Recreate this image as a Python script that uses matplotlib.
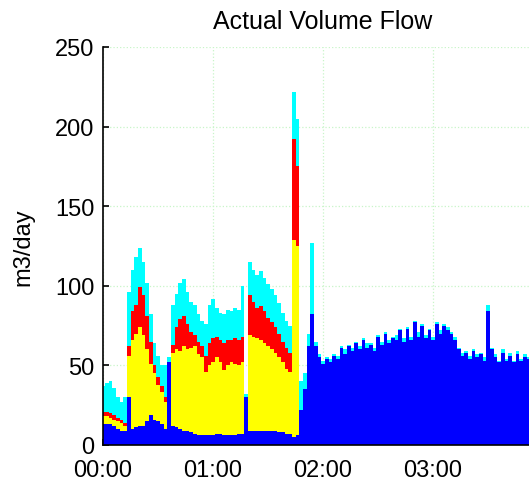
import numpy as np
import matplotlib
matplotlib.use("Agg")
import matplotlib.pyplot as plt

plt.rcParams['font.family'] = ['Liberation Sans', 'DejaVu Sans']

# time in minutes since 00:00, one sample every 2 minutes
minutes = list(range(0, 238, 2))

# layer values (m3/day), stacked bottom -> top
blue = [13, 13, 13, 12, 10, 9, 9, 30, 10, 11, 12, 12, 15, 19, 16, 15, 13, 10, 52, 12,
        11, 10, 9, 9, 8, 7, 6, 6, 6, 6, 6, 7, 7, 6, 6, 6, 6, 7, 7, 30,
        9, 9, 9, 9, 9, 9, 9, 9, 8, 8, 7, 7, 5, 6, 22, 35, 62, 82, 62, 55,
        51, 54, 52, 56, 54, 61, 57, 62, 59, 64, 60, 66, 61, 63, 59, 68, 63, 70, 64, 67,
        66, 72, 65, 73, 66, 77, 68, 75, 67, 72, 66, 76, 70, 75, 72, 70, 66, 60, 56, 58,
        54, 59, 55, 57, 53, 84, 60, 55, 52, 58, 53, 56, 52, 57, 53, 55, 54, 56, 53]

yellow = [5, 5, 4, 4, 5, 5, 3, 26, 56, 59, 62, 57, 45, 32, 29, 23, 20, 17, 0, 46,
          49, 49, 53, 51, 53, 55, 51, 49, 40, 44, 46, 48, 45, 41, 44, 46, 45, 43, 45, 0,
          60, 59, 58, 57, 55, 53, 51, 49, 47, 44, 41, 39, 124, 119, 0, 0, 0, 0, 0, 0,
          0] + [0] * 58

red = [3, 3, 3, 3, 2, 2, 2, 6, 18, 18, 25, 25, 21, 14, 5, 5, 4, 3, 0, 5,
       14, 20, 19, 16, 10, 7, 8, 7, 10, 14, 15, 13, 14, 17, 16, 14, 16, 16, 16, 0,
       25, 22, 19, 21, 20, 18, 17, 16, 15, 13, 13, 12, 63, 50, 0, 0, 0, 0, 0, 0,
       0] + [0] * 58

cyan = [16, 18, 20, 17, 13, 11, 16, 34, 26, 30, 25, 21, 21, 17, 14, 13, 13, 20, 3, 25,
        21, 23, 23, 20, 19, 19, 17, 16, 20, 24, 25, 18, 17, 18, 19, 18, 19, 19, 32, 2,
        21, 20, 21, 22, 21, 21, 21, 20, 19, 18, 17, 17, 30, 30, 18, 10, 8, 45, 3, 2,
        2, 1, 2, 1, 2, 1, 3, 1, 2, 1, 2, 1, 3, 1, 2, 1, 2, 1, 2, 1,
        3, 1, 2, 1, 2, 1, 3, 1, 2, 1, 2, 1, 2, 1, 2, 1, 2, 1, 2, 1,
        2, 1, 2, 1, 2, 4, 1, 2, 1, 2, 1, 2, 1, 2, 1, 2, 1, 2, 1]

tick_pos = [0, 60, 120, 180]
tick_labels = ['00:00', '01:00', '02:00', '03:00']

fig = plt.figure(figsize=(5.29, 4.85), dpi=100)
ax = fig.add_axes([103 / 529, 39 / 485, 440 / 529, 398 / 485])

ax.stackplot(minutes, blue, yellow, red, cyan,
             colors=['#0000ff', '#ffff00', '#ff0000', '#00ffff'],
             step='mid', linewidth=0, edgecolor='none')

ax.set_xlim(0, 240)
ax.set_ylim(0, 250)
ax.set_xticks(tick_pos)
ax.set_xticklabels(tick_labels)
ax.set_yticks([0, 50, 100, 150, 200, 250])

ax.set_axisbelow(True)
ax.grid(True, color='#c8f5c8', linestyle=':', linewidth=0.9)
for s in ['top', 'right']:
    ax.spines[s].set_visible(False)
ax.spines['left'].set_linewidth(1.2)
ax.spines['bottom'].set_linewidth(1.2)
ax.tick_params(direction='in', length=4, width=1.2, labelsize=17)
ax.tick_params(axis='x', pad=10)
ax.tick_params(axis='y', pad=6)

ax.set_ylabel('m3/day', fontsize=17)
ax.yaxis.set_label_coords(-0.155, 0.5)
ax.set_title('Actual Volume Flow', fontsize=18, pad=14)

fig.savefig('out.png', dpi=100)
